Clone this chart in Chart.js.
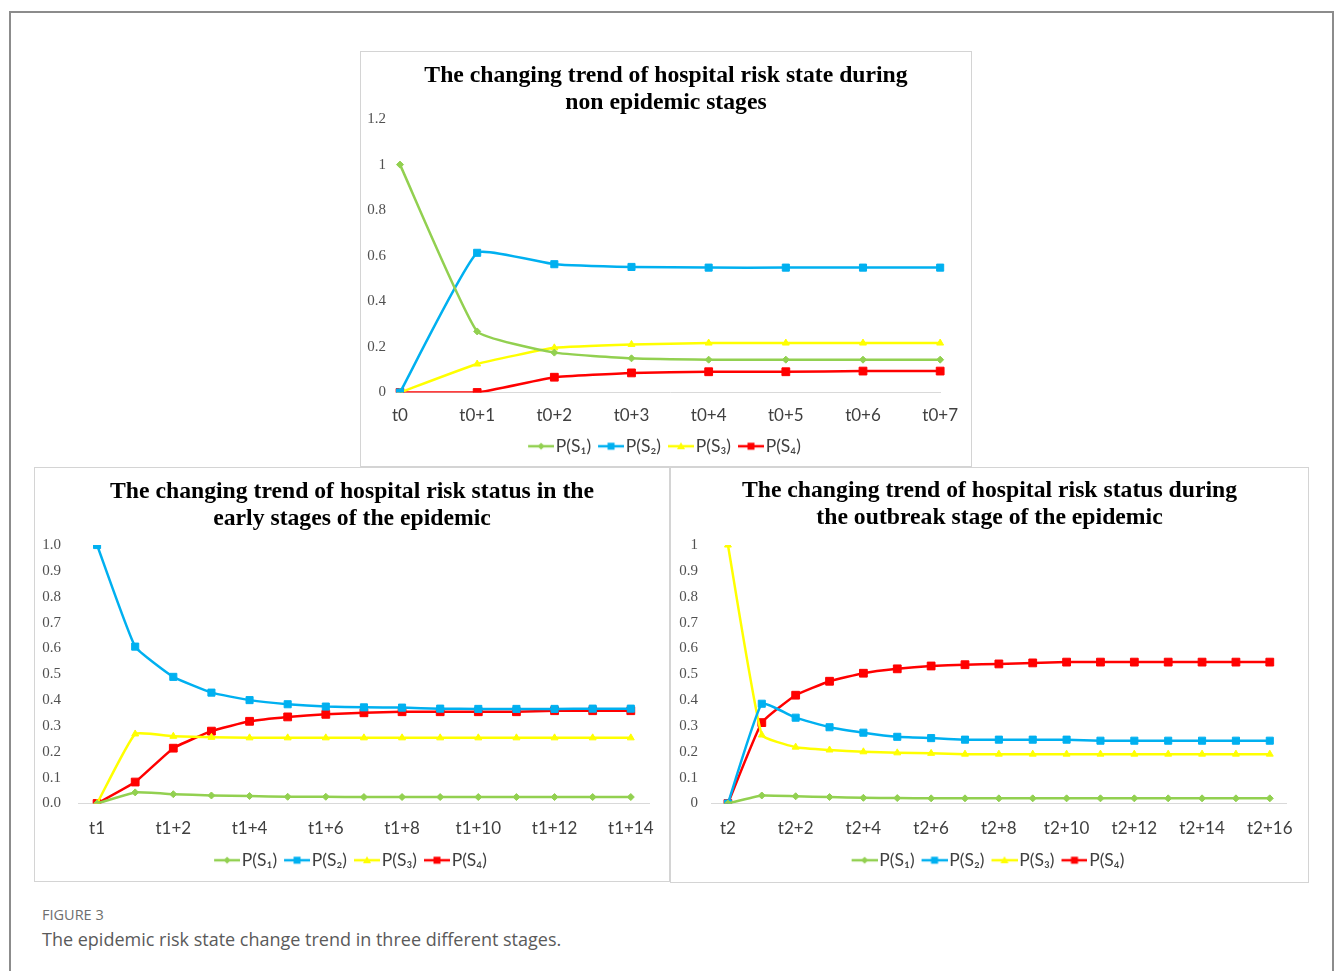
<!DOCTYPE html>
<html>
<head>
<meta charset="utf-8">
<script src="https://cdn.jsdelivr.net/npm/chart.js@4.4.1/dist/chart.umd.min.js"></script>
<style>
  html, body { margin: 0; padding: 0; background: #fff; width: 1335px; height: 971px; overflow: hidden; }
  #frame { position: absolute; left: 9px; top: 11px; width: 1325px; height: 1100px;
           border: 2px solid #8c8c8c; border-bottom: none; box-sizing: border-box; }
  .box { position: absolute; border: 1px solid #d4d4d4; background: #fff; }
  .box canvas { display: block; }
  #figNo { position: absolute; left: 42px; top: 905px; font: 14.5px "Open Sans", sans-serif; color: #6e6e6e; }
  #figText { position: absolute; left: 42px; top: 927px; font: 18px "Open Sans", sans-serif; color: #5a5a5a; }
</style>
</head>
<body>
<div id="frame"></div>
<div class="box" id="boxTop" style="left:360px;top:51px;"><canvas id="cTop" width="610" height="414"></canvas></div>
<div class="box" id="boxEarly" style="left:34px;top:467px;"><canvas id="cEarly" width="634" height="413"></canvas></div>
<div class="box" id="boxOut" style="left:670px;top:467px;"><canvas id="cOut" width="637" height="414"></canvas></div>
<div id="figNo">FIGURE 3</div>
<div id="figText">The epidemic risk state change trend in three different stages.</div>

<script>
// ---- data ----
const seriesNames = ['P(S\u2081)', 'P(S\u2082)', 'P(S\u2083)', 'P(S\u2084)'];

// non epidemic stage
const nonLabels = ['t0', 't0+1', 't0+2', 't0+3', 't0+4', 't0+5', 't0+6', 't0+7'];
const nonS1 = [1, 0.268, 0.175, 0.150, 0.144, 0.144, 0.144, 0.144];
const nonS2 = [0, 0.613, 0.563, 0.551, 0.548, 0.548, 0.548, 0.548];
const nonS3 = [0, 0.125, 0.196, 0.211, 0.217, 0.217, 0.217, 0.217];
const nonS4 = [0, 0, 0.067, 0.086, 0.091, 0.091, 0.094, 0.094];

// early stage of the epidemic
const earlyLabels = ['t1', 't1+1', 't1+2', 't1+3', 't1+4', 't1+5', 't1+6', 't1+7',
                     't1+8', 't1+9', 't1+10', 't1+11', 't1+12', 't1+13', 't1+14'];
const earlyS1 = [0, 0.043, 0.036, 0.031, 0.029, 0.026, 0.026, 0.025, 0.025, 0.025, 0.025, 0.025, 0.025, 0.025, 0.025];
const earlyS2 = [1.0, 0.607, 0.490, 0.429, 0.400, 0.384, 0.375, 0.372, 0.371, 0.367, 0.366, 0.366, 0.366, 0.367, 0.367];
const earlyS3 = [0, 0.269, 0.260, 0.256, 0.254, 0.254, 0.254, 0.254, 0.254, 0.254, 0.254, 0.254, 0.254, 0.254, 0.254];
const earlyS4 = [0, 0.083, 0.214, 0.280, 0.318, 0.335, 0.345, 0.351, 0.355, 0.355, 0.355, 0.355, 0.359, 0.359, 0.359];

// outbreak stage of the epidemic
const outLabels = ['t2', 't2+1', 't2+2', 't2+3', 't2+4', 't2+5', 't2+6', 't2+7', 't2+8',
                   't2+9', 't2+10', 't2+11', 't2+12', 't2+13', 't2+14', 't2+15', 't2+16'];
const outS1 = [0, 0.031, 0.028, 0.025, 0.022, 0.021, 0.020, 0.020, 0.020, 0.020, 0.020, 0.020, 0.020, 0.020, 0.020, 0.020, 0.020];
const outS2 = [0, 0.386, 0.332, 0.295, 0.274, 0.258, 0.253, 0.247, 0.247, 0.247, 0.247, 0.243, 0.243, 0.243, 0.243, 0.243, 0.243];
const outS3 = [1, 0.265, 0.218, 0.207, 0.200, 0.196, 0.194, 0.191, 0.191, 0.191, 0.191, 0.191, 0.191, 0.191, 0.191, 0.191, 0.191];
const outS4 = [0, 0.313, 0.419, 0.473, 0.504, 0.521, 0.532, 0.537, 0.540, 0.544, 0.547, 0.547, 0.547, 0.547, 0.547, 0.547, 0.547];

// ---- styles ----
const colors = ['#92D050', '#00B0F0', '#FFFF00', '#FF0000'];
const markers = [
  { style: 'rectRot', radius: 3.5 },
  { style: 'rect', radius: 5 },
  { style: 'triangle', radius: 4 },
  { style: 'rect', radius: 5.5 }
];

// small line-with-marker icon for the legend
function legendIcon(color, marker) {
  const c = document.createElement('canvas');
  c.width = 30; c.height = 12;
  const g = c.getContext('2d');
  g.strokeStyle = color; g.fillStyle = color; g.lineWidth = 2.5;
  g.beginPath(); g.moveTo(4, 6); g.lineTo(30, 6); g.stroke();
  const cx = 17, cy = 6;
  g.beginPath();
  if (marker.style === 'rect') {
    g.rect(cx - 3.5, cy - 3.5, 7, 7);
  } else if (marker.style === 'rectRot') {
    g.moveTo(cx, cy - 3.5); g.lineTo(cx + 3.5, cy); g.lineTo(cx, cy + 3.5); g.lineTo(cx - 3.5, cy);
  } else {
    g.moveTo(cx, cy - 4); g.lineTo(cx + 4, cy + 3); g.lineTo(cx - 4, cy + 3);
  }
  g.closePath(); g.fill();
  return c;
}
const icons = colors.map((c, i) => legendIcon(c, markers[i]));

function makeDatasets(values) {
  return values.map((v, i) => ({
    label: seriesNames[i],
    data: v,
    borderColor: colors[i],
    backgroundColor: colors[i],
    borderWidth: 2.5,
    pointStyle: markers[i].style,
    pointRadius: markers[i].radius,
    pointHoverRadius: markers[i].radius,
    pointBackgroundColor: colors[i],
    pointBorderColor: colors[i],
    pointBorderWidth: 1,
    tension: 0.12,
    fill: false
  }));
}

function makeChart(id, opt) {
  return new Chart(document.getElementById(id), {
    type: 'line',
    data: { labels: opt.labels, datasets: makeDatasets(opt.series) },
    options: {
      responsive: false,
      animation: false,
      events: [],
      layout: { padding: { left: 0, right: 0, top: 0, bottom: opt.padBottom } },
      plugins: {
        title: {
          display: true,
          text: opt.title,
          color: '#000',
          font: { family: '"Liberation Serif", "Times New Roman", serif', size: 23.7, weight: 'bold', lineHeight: 1.14 },
          padding: { top: opt.titleTop, bottom: opt.titleBottom }
        },
        legend: {
          display: true,
          position: 'bottom',
          labels: {
            usePointStyle: true,
            pointStyleWidth: 16,
            padding: 10,
            color: '#404040',
            font: { family: 'Lato, "Noto Sans", sans-serif', size: 17.5 },
            generateLabels: (chart) => chart.data.datasets.map((ds, i) => ({
              text: ds.label, pointStyle: icons[i], fillStyle: colors[i],
              strokeStyle: colors[i], lineWidth: 0, fontColor: '#404040', datasetIndex: i, hidden: false
            }))
          }
        },
        tooltip: { enabled: false }
      },
      scales: {
        x: {
          offset: opt.offset,
          grid: { display: false, drawTicks: false },
          border: { display: true, color: '#d9d9d9', width: 1 },
          ticks: {
            autoSkip: false, maxRotation: 0, padding: opt.xPad, color: '#404040',
            font: { family: 'Lato, "Noto Sans", sans-serif', size: 17 },
            callback: function (value, index) {
              return (index % opt.every === 0) ? this.getLabelForValue(value) : '';
            }
          },
          afterFit: (s) => { s.height = opt.xHeight; }
        },
        y: {
          min: 0, max: opt.max,
          grid: { display: false, drawTicks: false },
          border: { display: false },
          ticks: {
            stepSize: opt.step, padding: opt.yPad, color: '#505050',
            font: { family: '"Liberation Serif", "Times New Roman", serif', size: 15 },
            callback: (v) => opt.fmt(v)
          },
          afterFit: (s) => { s.width = opt.yWidth; }
        },
        // empty right-hand margin of the plot (keeps title and legend centred on the box)
        yRight: {
          position: 'right',
          min: 0, max: opt.max,
          grid: { display: false, drawTicks: false },
          border: { display: false },
          ticks: { display: false },
          afterFit: (s) => { s.width = opt.padRight; }
        }
      }
    }
  });
}

const general = (v) => String(Number(v.toFixed(1)));

makeChart('cTop', {
  labels: nonLabels, series: [nonS1, nonS2, nonS3, nonS4],
  title: ['The changing trend of hospital risk state during', 'non epidemic stages'],
  max: 1.2, step: 0.2, fmt: general, offset: false, every: 1,
  yWidth: 39, yPad: 14, padRight: 25, padBottom: 1, xHeight: 35, xPad: 13,
  titleTop: 10, titleBottom: 3
});

makeChart('cEarly', {
  labels: earlyLabels, series: [earlyS1, earlyS2, earlyS3, earlyS4],
  title: ['The changing trend of hospital risk status in the', 'early stages of the epidemic'],
  max: 1.0, step: 0.1, fmt: (v) => v.toFixed(1), offset: true, every: 2,
  yWidth: 43, yPad: 17, padRight: 13, padBottom: 2, xHeight: 38, xPad: 15,
  titleTop: 10, titleBottom: 13
});

makeChart('cOut', {
  labels: outLabels, series: [outS1, outS2, outS3, outS4],
  title: ['The changing trend of hospital risk status during', 'the outbreak stage of the epidemic'],
  max: 1.0, step: 0.1, fmt: general, offset: true, every: 2,
  yWidth: 40, yPad: 13, padRight: 15, padBottom: 3, xHeight: 38, xPad: 15,
  titleTop: 9, titleBottom: 14
});
</script>
</body>
</html>
